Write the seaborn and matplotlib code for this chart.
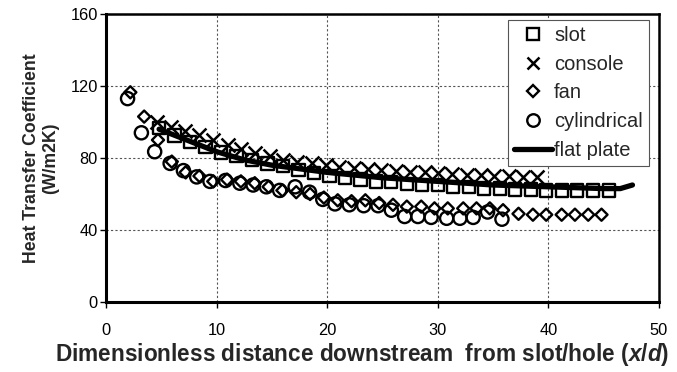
import numpy as np
import pandas as pd
import matplotlib
matplotlib.use("Agg")
import matplotlib.pyplot as plt
from matplotlib.lines import Line2D
import seaborn as sns

# ---- data ----
slot_x = [4.8, 6.2, 7.6, 9.0, 10.4, 11.8, 13.2, 14.6, 16.0, 17.4, 18.8, 20.2, 21.6, 23.0, 24.4,
          25.8, 27.2, 28.6, 30.0, 31.4, 32.8, 34.2, 35.6, 37.0, 38.4, 39.8, 41.2, 42.6, 44.0, 45.5]
slot_y = [96.5, 92.5, 89, 86, 83, 81, 79, 77, 75.5, 73.5, 71.5, 70, 69, 68, 67,
          66.5, 65.5, 65, 65, 64, 64, 63, 63, 62.5, 62.5, 62, 62, 62, 62, 62]

console_x = [4.6, 5.9, 7.1, 8.4, 9.7, 11.0, 12.2, 13.5, 14.8, 16.0, 17.3, 18.6, 19.9, 21.1,
             22.4, 23.7, 24.9, 26.2, 27.5, 28.8, 30.0, 31.3, 32.6, 33.9, 35.1, 36.4, 37.7, 39.0]
console_y = [100, 97, 95, 93, 90, 87.5, 85, 83, 81, 79, 78, 77, 76, 75,
             74.5, 74, 73.5, 73, 72.5, 72, 71.5, 71, 70.5, 70.5, 70, 70, 69.5, 69.5]

fan_x = [2.2, 3.45, 4.7, 5.95, 7.2, 8.45, 9.7, 10.95, 12.2, 13.45, 14.7, 15.95, 17.2, 18.45,
         19.7, 20.95, 22.2, 23.45, 24.7, 25.95, 27.2, 28.5, 29.7, 30.9, 32.3, 33.5, 34.7, 35.9,
         37.3, 38.6, 39.8, 41.2, 42.4, 43.6, 44.8]
fan_y = [116.5, 103, 90, 78, 72, 70, 67, 68, 67, 66, 64, 62, 61, 60,
         58, 56.5, 56, 56.5, 55, 54, 53, 53, 52, 52, 52, 52, 52, 51,
         49, 48.5, 48.5, 48.5, 48.5, 48.5, 48.5]

cyl_x = [1.95, 3.2, 4.4, 5.8, 7.0, 8.2, 9.4, 10.8, 12.1, 13.3, 14.5, 15.7, 17.1, 18.4,
         19.6, 20.7, 22.0, 23.3, 24.6, 25.8, 27.0, 28.2, 29.4, 30.8, 32.0, 33.2, 34.5, 35.8]
cyl_y = [113, 94, 83.5, 77, 73, 69.5, 67, 67.5, 66, 65, 64, 62, 64, 61,
         57, 54.5, 54, 53.5, 53.5, 51, 47.5, 47.5, 47, 46.5, 46.5, 47, 50, 46]

flat_x = [4.8, 7.5, 10, 12.5, 15, 17.5, 20, 22.5, 25, 27.5, 30, 32.5, 35, 37.5, 40, 42.5, 45, 46.5, 47.6]
flat_y = [96, 89.5, 83.5, 79, 76, 74, 72, 70.5, 69, 68, 67, 66, 65, 64.5, 64, 63.5, 63, 63, 65]

series_names = ["slot", "console", "fan", "cylindrical", "flat plate"]

# ---- style ----
sns.set_theme(style="white")
plt.rcParams["font.family"] = ["Liberation Sans", "DejaVu Sans"]
plt.rcParams["mathtext.fontset"] = "custom"
plt.rcParams["mathtext.it"] = "Liberation Sans:italic:bold"
plt.rcParams["mathtext.rm"] = "Liberation Sans:bold"
plt.rcParams["mathtext.default"] = "it"

fig = plt.figure(figsize=(6.77, 3.72), dpi=100)
ax = fig.add_axes([106 / 677, 1 - 302 / 372, (659 - 106) / 677, (302 - 14) / 372])

lw = 1.7
sns.scatterplot(x=slot_x, y=slot_y, ax=ax, marker="s", s=78, facecolor="none",
                edgecolor="black", linewidth=lw, zorder=3)
sns.scatterplot(x=fan_x, y=fan_y, ax=ax, marker="D", s=38, facecolor="none",
                edgecolor="black", linewidth=lw, zorder=3)
sns.scatterplot(x=cyl_x, y=cyl_y, ax=ax, marker="o", s=90, facecolor="none",
                edgecolor="black", linewidth=lw, zorder=3)
sns.scatterplot(x=console_x, y=console_y, ax=ax, marker="x", s=100, color="black",
                linewidth=1.8, zorder=3)
sns.lineplot(x=flat_x, y=flat_y, ax=ax, color="black", linewidth=3.8, zorder=4,
             sort=False, estimator=None)

ax.set_xlim(0, 50)
ax.set_ylim(0, 160)
ax.set_xticks([0, 10, 20, 30, 40, 50])
ax.set_yticks([0, 40, 80, 120, 160])
ax.tick_params(axis="both", labelsize=11.8, colors="black", length=4, width=1,
               direction="out", bottom=True, left=True)
ax.tick_params(axis="x", pad=11)
ax.tick_params(axis="y", pad=2)
ax.grid(True, color="#555555", linestyle=(0, (2, 2)), linewidth=0.8)
for side in ["left", "bottom"]:
    ax.spines[side].set_linewidth(2.2)
    ax.spines[side].set_color("black")
for side in ["top", "right"]:
    ax.spines[side].set_linewidth(1.8)
    ax.spines[side].set_color("black")

ax.set_xlabel("Dimensionless distance downstream  from slot/hole ($x/d$)",
              fontsize=16.3, fontweight="bold")
ax.xaxis.set_label_coords((362 - 106) / (659 - 106), -0.135)
ax.set_ylabel("Heat Transfer Coefficient\n(W/m2K)", fontsize=12.7,
              fontweight="bold", labelpad=8, linespacing=1.15)

handles = [
    Line2D([], [], marker="s", linestyle="", markersize=9, markerfacecolor="none",
           markeredgecolor="black", markeredgewidth=lw),
    Line2D([], [], marker="x", linestyle="", markersize=9, color="black", markeredgewidth=1.8),
    Line2D([], [], marker="D", linestyle="", markersize=6, markerfacecolor="none",
           markeredgecolor="black", markeredgewidth=lw),
    Line2D([], [], marker="o", linestyle="", markersize=9, markerfacecolor="none",
           markeredgecolor="black", markeredgewidth=lw),
    Line2D([], [], color="black", linewidth=3.8),
]
leg = ax.legend(handles, series_names, loc="upper right",
                bbox_to_anchor=((649 - 106) / (659 - 106), (302 - 20) / (302 - 14)),
                fontsize=14.5, frameon=True, fancybox=False, borderpad=0.3,
                labelspacing=0.48, handlelength=1.9, handletextpad=0.1,
                borderaxespad=0)
leg.get_frame().set_edgecolor("#555555")
leg.get_frame().set_linewidth(0.8)
leg.get_frame().set_facecolor("white")
leg.get_frame().set_alpha(1)

fig.savefig("out.png", dpi=100)
